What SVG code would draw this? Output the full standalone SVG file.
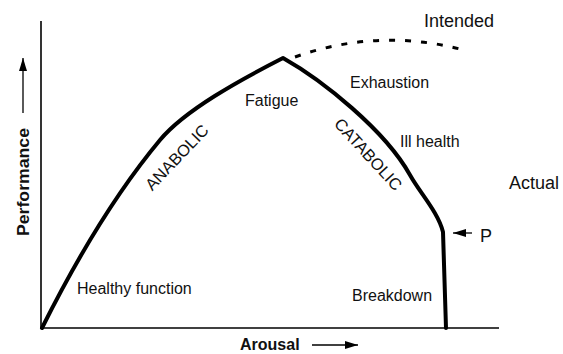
<svg xmlns="http://www.w3.org/2000/svg" width="563" height="354" viewBox="0 0 563 354">
<style>
text{font-family:"Liberation Sans",Arial,sans-serif;fill:#111;}
.lbl{font-size:16px;}
.big{font-size:18px;}
.ax{font-size:16px;font-weight:bold;}
.axis{stroke:#000;stroke-width:1.6;fill:none;}
.curve{stroke:#000;stroke-width:4;fill:none;stroke-linejoin:round;stroke-linecap:round;}
.dash{stroke:#000;stroke-width:3;fill:none;stroke-dasharray:6 10;}
.arr{stroke:#000;stroke-width:1.3;fill:none;}
</style>
<defs>
<marker id="ah" viewBox="0 0 13 8" refX="13" refY="4" markerWidth="13" markerHeight="8" markerUnits="userSpaceOnUse" orient="auto">
<path d="M0,0 L13,4 L0,8 Z" fill="#000"/>
</marker>
</defs>
<g id="axes">
<line class="axis" x1="41" y1="21" x2="41" y2="328"/>
<line class="axis" x1="41" y1="328" x2="499" y2="328"/>
</g>
<g id="connectors">
<path id="actual-curve" class="curve" d="M42,328 C70,272 110,200 160,140 C185,110 240,80 283,58 C322,80 385,130 410,175 C420,193 438,212 443,232 L446,328"/>
<path id="intended-curve" class="dash" d="M295,57 Q377,28 460,49"/>
<line class="arr" x1="23" y1="113" x2="23" y2="58" marker-end="url(#ah)"/>
<line class="arr" x1="312" y1="345" x2="358" y2="345" marker-end="url(#ah)"/>
<line class="arr" x1="472" y1="233" x2="453" y2="233" marker-end="url(#ah)"/>
</g>
<g id="label-performance"><text class="ax" transform="translate(28.5,236) rotate(-90)" textLength="108" lengthAdjust="spacingAndGlyphs">Performance</text></g>
<g id="label-arousal"><text class="ax" x="240" y="350">Arousal</text></g>
<g id="label-intended"><text class="big" x="424" y="27">Intended</text></g>
<g id="label-actual"><text class="big" x="509" y="189">Actual</text></g>
<g id="label-p"><text class="big" x="480" y="242">P</text></g>
<g id="label-fatigue"><text class="lbl" x="245" y="106">Fatigue</text></g>
<g id="label-exhaustion"><text class="lbl" x="350" y="88">Exhaustion</text></g>
<g id="label-illhealth"><text class="lbl" x="400" y="147">Ill health</text></g>
<g id="label-healthy"><text class="lbl" x="77" y="294">Healthy function</text></g>
<g id="label-breakdown"><text class="lbl" x="352" y="301">Breakdown</text></g>
<g id="label-anabolic"><text class="lbl" style="font-size:16.5px" transform="translate(152.2,191.4) rotate(-46.3)">ANABOLIC</text></g>
<g id="label-catabolic"><text class="lbl" style="font-size:16.5px" transform="translate(333.3,124.6) rotate(47.5)">CATABOLIC</text></g>
</svg>
